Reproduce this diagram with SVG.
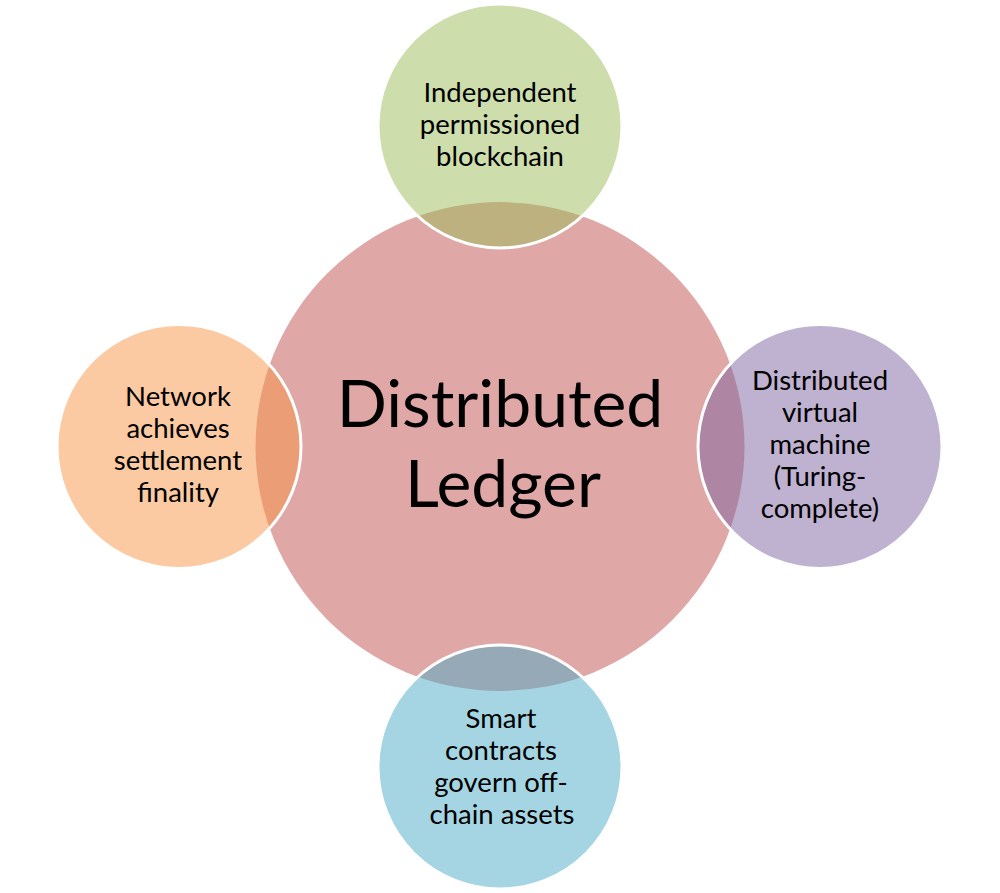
<svg xmlns="http://www.w3.org/2000/svg" width="1000" height="893" viewBox="0 0 1000 893">
<style>
.sat{stroke:#FFFFFF;stroke-width:3;fill-opacity:0.5}
.lbl{font-family:Lato,"Liberation Sans",sans-serif;font-size:27.5px;fill:#000000;text-anchor:middle}
.big{font-family:Lato,"Liberation Sans",sans-serif;font-size:66px;fill:#000000;text-anchor:middle}
</style>
<rect width="1000" height="893" fill="#FFFFFF"/>
<g id="center">
<circle cx="500" cy="446.5" r="244.5" fill="#C0504D" fill-opacity="0.5"/>
<text class="big" x="500" y="427">Distributed</text>
<text class="big" x="503" y="507">Ledger</text>
</g>
<g id="top">
<circle class="sat" cx="500" cy="126" r="122" fill="#9BBB59"/>
<text class="lbl" x="500" y="102">Independent</text>
<text class="lbl" x="500" y="134">permissioned</text>
<text class="lbl" x="500" y="166">blockchain</text>
</g>
<g id="right">
<circle class="sat" cx="820" cy="446.5" r="122" fill="#8064A2"/>
<text class="lbl" x="820" y="390">Distributed</text>
<text class="lbl" x="820" y="422">virtual</text>
<text class="lbl" x="820" y="454">machine</text>
<text class="lbl" x="820" y="486">(Turing-</text>
<text class="lbl" x="820" y="518">complete)</text>
</g>
<g id="bottom">
<circle class="sat" cx="500" cy="767" r="122" fill="#4BACC6"/>
<text class="lbl" x="501" y="728">Smart</text>
<text class="lbl" x="501" y="760">contracts</text>
<text class="lbl" x="501" y="792">govern off-</text>
<text class="lbl" x="502" y="824">chain assets</text>
</g>
<g id="left">
<circle class="sat" cx="179" cy="446.5" r="122" fill="#F79646"/>
<text class="lbl" x="178" y="406">Network</text>
<text class="lbl" x="178" y="438">achieves</text>
<text class="lbl" x="178" y="470">settlement</text>
<text class="lbl" x="178" y="502">finality</text>
</g>
<g id="connectors"/>
</svg>
